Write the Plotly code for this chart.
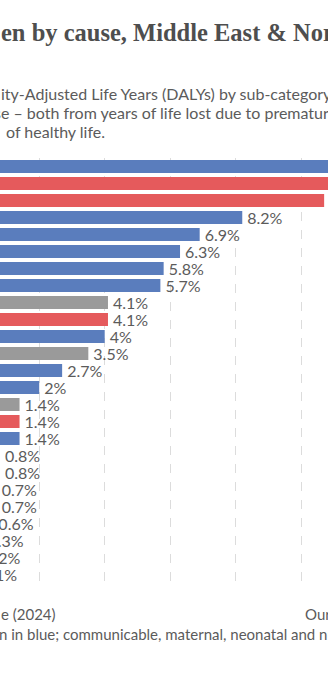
import plotly.graph_objects as go

# Share of total DALYs by cause (percent), largest first
causes = [
    "Cardiovascular diseases", "COVID-19", "Neonatal disorders", "Cancers",
    "Mental disorders", "Musculoskeletal disorders", "Diabetes and kidney diseases",
    "Neurological disorders", "Unintentional injuries",
    "Respiratory infections and tuberculosis", "Chronic respiratory diseases",
    "Transport injuries", "Digestive diseases", "Sense organ diseases",
    "Interpersonal violence", "Nutritional deficiencies", "Skin diseases",
    "Enteric infections", "Self-harm", "Other non-communicable diseases",
    "Substance use disorders", "Maternal disorders", "Other infectious diseases",
    "HIV/AIDS and sexually transmitted infections", "Neglected tropical diseases and malaria",
]
shares = [15.4, 11.6, 10.7, 8.2, 6.9, 6.3, 5.8, 5.7, 4.1, 4.1, 4.0, 3.5, 2.7,
          2.0, 1.4, 1.4, 1.4, 0.8, 0.8, 0.7, 0.7, 0.6, 0.3, 0.2, 0.1]
groups = ["ncd", "cmnn", "cmnn", "ncd", "ncd", "ncd", "ncd", "ncd", "inj",
          "cmnn", "ncd", "inj", "ncd", "ncd", "inj", "cmnn", "ncd",
          "cmnn", "inj", "ncd", "ncd", "cmnn", "cmnn", "cmnn", "cmnn"]

group_colors = {"ncd": "#5a7dbd", "cmnn": "#e55a5c", "inj": "#9a9a9a"}
bar_colors = [group_colors[g] for g in groups]
labels = [f"\u2009{v:g}%" for v in shares]

TEXT = "#5b5b5b"

fig = go.Figure()
fig.add_trace(go.Bar(
    x=shares, y=causes, orientation="h",
    marker=dict(color=bar_colors, line=dict(width=0)),
    hoverinfo="skip",
))
# Value labels: a transparent bar that starts where each real bar ends,
# carrying its text at its left end so labels of very short bars still show.
fig.add_trace(go.Bar(
    base=shares, x=[3.0] * len(shares), y=causes, orientation="h",
    marker=dict(color="rgba(0,0,0,0)", line=dict(width=0)),
    text=labels, textposition="inside", insidetextanchor="start",
    textangle=0, constraintext="none",
    insidetextfont=dict(family="Lato", size=16, color=TEXT),
    hoverinfo="skip",
))

n = len(causes)
fig.update_layout(
    width=328, height=680,
    margin=dict(l=0, r=0, t=158, b=97),
    paper_bgcolor="white", plot_bgcolor="white",
    showlegend=False, bargap=0.235, barmode="overlay",
    font=dict(family="Lato", color=TEXT),
    xaxis=dict(range=[0.803, 10.818], dtick=2, showgrid=True,
               gridcolor="#dcdcdc", griddash="dash", gridwidth=1,
               zeroline=False, showticklabels=False, showline=False),
    yaxis=dict(range=[n - 0.5, -0.5], showticklabels=False, showgrid=False,
               zeroline=False, showline=False),
)

def note(text, x, y, size, color=TEXT, family="Lato"):
    fig.add_annotation(text=text, x=x, y=y, xref="paper", yref="paper",
                       xanchor="left", yanchor="middle", showarrow=False,
                       font=dict(family=family, size=size, color=color), align="left")

def py(px):
    # pixel row from top of page -> paper coordinate
    return (680 - 97 - px) / (680 - 158 - 97)

def pxx(px):
    return px / 328

note("<b>en by cause, Middle East &amp; North Africa, 2021</b>", pxx(-1), py(33), 24.5,
     color="#4e4e4e", family="Liberation Serif")
note("ity-Adjusted Life Years (DALYs) by sub-category of disease or injury. DALYs",
     pxx(-1), py(93), 16)
note("se – both from years of life lost due to premature death and years lived with a disability.",
     pxx(-8), py(113), 16)
note("of healthy life.", pxx(4), py(132), 16)
note("e (2024)", pxx(-1), py(614), 15)
note("OurWorldinData.org/burden-of-disease | CC BY", pxx(303), py(614), 15)
note("n in blue; communicable, maternal, neonatal and nutritional diseases in red; injuries in grey.",
     pxx(-3), py(634), 15)

fig.write_html("out.html")
